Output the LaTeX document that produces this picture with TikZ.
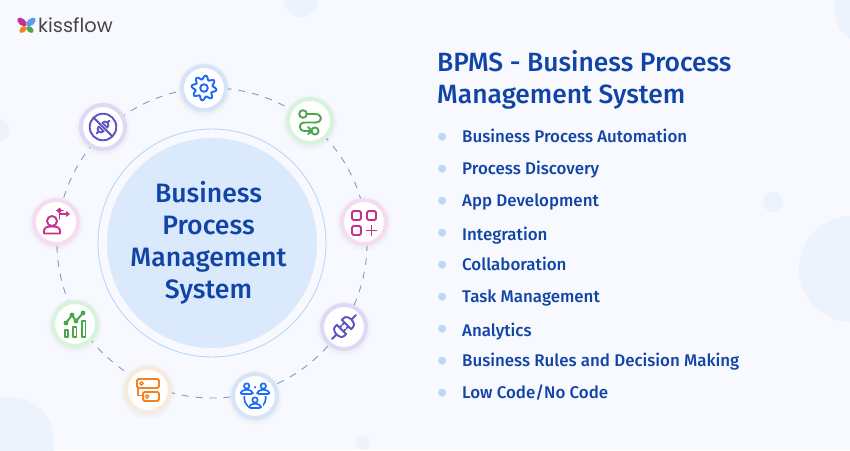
\documentclass[tikz,border=0pt]{standalone}
\usepackage{fontspec}
\setmainfont{Fira Sans}[BoldFont={Fira Sans Medium}]
\newfontfamily\logofont{Poppins}
\definecolor{bgc}{HTML}{F7F9FE}
\definecolor{blobc}{HTML}{EDF3FD}
\definecolor{discc}{HTML}{DBE9FD}
\definecolor{ringc}{HTML}{B9D6FB}
\definecolor{titlec}{HTML}{1044A6}
\definecolor{dashc}{HTML}{7F9CC6}
\definecolor{bulletc}{HTML}{BAD7FB}
\definecolor{rblue}{HTML}{D6E4F9}
\definecolor{rgreen}{HTML}{D8F3DC}
\definecolor{rpink}{HTML}{F6DCF1}
\definecolor{rpurple}{HTML}{DEDAF6}
\definecolor{rorange}{HTML}{F7EBDC}
\definecolor{iblue}{HTML}{1B6BF5}
\definecolor{igreen}{HTML}{4BA54C}
\definecolor{ipink}{HTML}{C8308F}
\definecolor{ipurple}{HTML}{5A55C0}
\definecolor{iorange}{HTML}{F58220}
\tikzset{
  blob/.style={fill=blobc,draw=none},
  iconnode/.style={circle,fill=white,draw=#1,line width=4pt,minimum size=44pt,inner sep=0pt},
  icon/.style={draw=#1,line width=1.9pt,line cap=round,line join=round,fill=none},
  bulletdot/.style={circle,fill=bulletc,minimum size=8pt,inner sep=0pt},
  listitem/.style={anchor=base west,inner sep=0pt,text=titlec,font=\fontsize{16.9}{18}\selectfont\bfseries},
  halo/.style={circle,fill=black,fill opacity=0.008,draw=none,inner sep=0pt},
}
\newcommand{\ringnode}[4]{%
  \foreach \hs in {56,54,52,50,48}{\node[halo,minimum size=\hs pt] at (#2,#3+1.5) {};}
  \node[iconnode=#4] (#1) at (#2,#3) {};}
\begin{document}
\begin{tikzpicture}[x=1pt,y=-1pt]
\useasboundingbox (0,0) rectangle (850,450);
\fill[bgc] (0,0) rectangle (850,450);
\clip (0,0) rectangle (850,450);
% background blobs
\fill[blob] (301,0) circle[radius=17pt];
\fill[blob] (872,8) circle[radius=38pt];
\fill[blob] (852,269) circle[radius=53pt];
\fill[blob] (773,202) circle[radius=10pt];
\fill[blob] (-1,130) circle[radius=11pt];
\fill[blob] (10,441) circle[radius=44pt];
\fill[blob] (363,443) circle[radius=7pt];
% logo
\fill[ipink,rotate around={-40:(22,22)}] (22,22) ellipse[x radius=5.6pt,y radius=3.3pt];
\fill[iblue!70!white,rotate around={40:(31,22)}] (31,22) ellipse[x radius=5.6pt,y radius=3.3pt];
\fill[iorange,rotate around={40:(23,29.5)}] (23,29.5) ellipse[x radius=4.2pt,y radius=2.7pt];
\fill[igreen,rotate around={-40:(30,29.5)}] (30,29.5) ellipse[x radius=4.2pt,y radius=2.7pt];
\node[anchor=base west,inner sep=0pt,text=black!72,font=\logofont\fontsize{19.4}{22}\selectfont] (logo) at (38,32) {kissflow};
% central disc
\draw[dashc,line width=0.9pt,dash pattern=on 7pt off 7pt] (212,243) circle[radius=155pt];
\node[circle,draw=ringc,line width=0.9pt,fill=bgc,minimum size=228pt,inner sep=0pt] (outer) at (212,243) {};
\node[circle,fill=discc,minimum size=210pt,inner sep=0pt] (disc) at (212,243) {};
\node[inner sep=0pt,align=center,text=titlec,font=\fontsize{26.6}{32}\selectfont\bfseries] (disclabel) at (208.5,243) {Business\\Process\\Management\\System};
% icon nodes
\ringnode{gear}{204}{88}{rblue}
\ringnode{route}{310}{121}{rgreen}
\ringnode{apps}{364}{222}{rpink}
\ringnode{plug}{344}{327}{rpurple}
\ringnode{team}{255}{396}{rblue}
\ringnode{server}{148}{390}{rorange}
\ringnode{chart}{75}{324}{rgreen}
\ringnode{user}{56}{222}{rpink}
\ringnode{nosign}{103}{127}{rpurple}
% gear
\begin{scope}[shift={(gear)}]
\draw[icon=iblue] plot[domain=0:360,samples=121,smooth] (\x:{10.6+1.9*sin(8*\x+22)}) -- cycle;
\draw[icon=iblue] (0,0) circle[radius=3.8pt];
\end{scope}
% route
\begin{scope}[shift={(route)}]
\draw[icon=igreen] (-7,-7) circle[radius=3.8pt];
\draw[icon=igreen] (5,10) circle[radius=3.6pt];
\draw[icon=igreen] (-3.2,-7) -- (5,-7) .. controls (13,-7) and (13,1.5) .. (5,1.5) -- (-5,1.5) .. controls (-12,1.5) and (-12,10) .. (-5,10) -- (1.4,10);
\draw[icon=igreen] (-2,6) -- (2,10) -- (-2,13);
\end{scope}
% apps
\begin{scope}[shift={(apps)}]
\draw[icon=ipink,rounded corners=1.5pt] (-12,-11) rectangle (-3,-2);
\draw[icon=ipink,rounded corners=1.5pt] (3,-11) rectangle (12,-2);
\draw[icon=ipink,rounded corners=1.5pt] (-12,4) rectangle (-3,13);
\draw[icon=ipink] (7.5,3.5) -- (7.5,13.5) (2.5,8.5) -- (12.5,8.5);
\end{scope}
% plug
\begin{scope}[shift={(plug)},rotate=-45]
\draw[icon=ipurple] (-6.5,-3.5) -- (6.5,-3.5) -- (6.5,-6) .. controls (6.5,-12) and (-6.5,-12) .. (-6.5,-6) -- cycle;
\draw[icon=ipurple] (-6.5,3.5) -- (6.5,3.5) -- (6.5,6) .. controls (6.5,12) and (-6.5,12) .. (-6.5,6) -- cycle;
\draw[icon=ipurple] (0,-10.5) -- (0,-17) (0,10.5) -- (0,17);
\draw[icon=ipurple] (-2.7,-3.5) -- (-2.7,-0.8) (2.7,-3.5) -- (2.7,-0.8) (-2.7,3.5) -- (-2.7,0.8) (2.7,3.5) -- (2.7,0.8);
\end{scope}
% team
\begin{scope}[shift={(team)}]
\draw[icon=iblue,line width=1.6pt] (0,2) circle[radius=10.8pt];
\foreach \px/\py in {-8.3/-10,8.3/-10,0/4}{
  \fill[white] (\px-7.5,\py-3.5) rectangle (\px+7.5,\py+9.5);
  \draw[icon=iblue,line width=1.7pt] (\px,\py) circle[radius=2.7pt];
  \draw[icon=iblue,line width=1.7pt,rounded corners=1.5pt] (\px-6,\py+8) -- (\px-6,\py+6) -- (\px-2.5,\py+3.8) -- (\px+2.5,\py+3.8) -- (\px+6,\py+6) -- (\px+6,\py+8) -- cycle;
}
\end{scope}
% server
\begin{scope}[shift={(server)}]
\draw[icon=iorange,rounded corners=1.5pt] (-11,-11) rectangle (11,-2);
\draw[icon=iorange,rounded corners=1.5pt] (-5,2) rectangle (11,11);
\draw[icon=iorange] (-10,-2) -- (-10,5.5) -- (-5,5.5);
\draw[icon=iorange,line width=1.3pt] (-6.5,-6.5) circle[radius=1.8pt];
\draw[icon=iorange,line width=1.3pt] (-1,6.5) circle[radius=1.8pt];
\end{scope}
% chart
\begin{scope}[shift={(chart)}]
\draw[icon=igreen,line width=1.6pt] (-10,6) rectangle (-7,13);
\draw[icon=igreen,line width=1.6pt] (-2,3) rectangle (1.5,13);
\draw[icon=igreen,line width=1.6pt] (7,-3) rectangle (10.5,13);
\draw[icon=igreen,line width=2pt] (-9,-1) -- (-3,-9) -- (1,-3) -- (8,-11);
\fill[igreen] (-9,-1) circle[radius=2.4pt] (-3,-9) circle[radius=2.4pt] (1,-3) circle[radius=2.4pt] (8,-11) circle[radius=2.4pt];
\end{scope}
% user
\begin{scope}[shift={(user)}]
\draw[icon=ipink] (-4,-1) circle[radius=5pt];
\draw[icon=ipink] (-12,11.5) .. controls (-13,4.5) and (-8,4.5) .. (-4,4.5) .. controls (0,4.5) and (5,4.5) .. (4,11.5) -- cycle;
\draw[icon=ipink] (3.5,-3) -- (3.5,-8) -- (11,-8);
\draw[icon=ipink] (0.5,-11.5) -- (7,-11.5);
\fill[ipink] (14,-8) -- (10,-11) -- (10,-5) -- cycle;
\fill[ipink] (3.5,-14.5) -- (0.5,-11.5) -- (3.5,-8.5) -- (6,-11.5) -- cycle;
\end{scope}
% no sign
\begin{scope}[shift={(nosign)}]
\draw[icon=ipurple] (0,0) circle[radius=13.3pt];
\draw[icon=ipurple] (-9.5,-9.5) -- (9.5,9.5);
\begin{scope}[rotate=-45]
\draw[icon=ipurple,line width=1.8pt] (-3.5,-2.5) -- (3.5,-2.5) .. controls (3.5,-7.5) and (-3.5,-7.5) .. (-3.5,-2.5);
\draw[icon=ipurple,line width=1.8pt] (-3.5,2.5) -- (3.5,2.5) .. controls (3.5,7.5) and (-3.5,7.5) .. (-3.5,2.5);
\draw[icon=ipurple,line width=1.8pt] (0,-6.5) -- (0,-9) (0,6.5) -- (0,9);
\end{scope}
\end{scope}
% right column
\node[anchor=west,inner sep=0pt,align=left,text=titlec,font=\fontsize{26.4}{32}\selectfont\bfseries] (title) at (437,80) {BPMS - Business Process\\Management System};
\foreach \n/\dy/\by/\txt in {a/136.7/142/Business Process Automation,b/168.7/174/Process Discovery,c/200.7/206/App Development,d/232.7/240/Integration,e/264.7/270/Collaboration,f/296.7/302/Task Management,g/328.7/336/Analytics,h/360.7/366/Business Rules and Decision Making,i/392.7/398/Low Code\slash No Code}{
  \node[bulletdot] (dot\n) at (442,\dy) {};
  \node[listitem] (item\n) at (462,\by) {\txt};
}
\end{tikzpicture}
\end{document}
